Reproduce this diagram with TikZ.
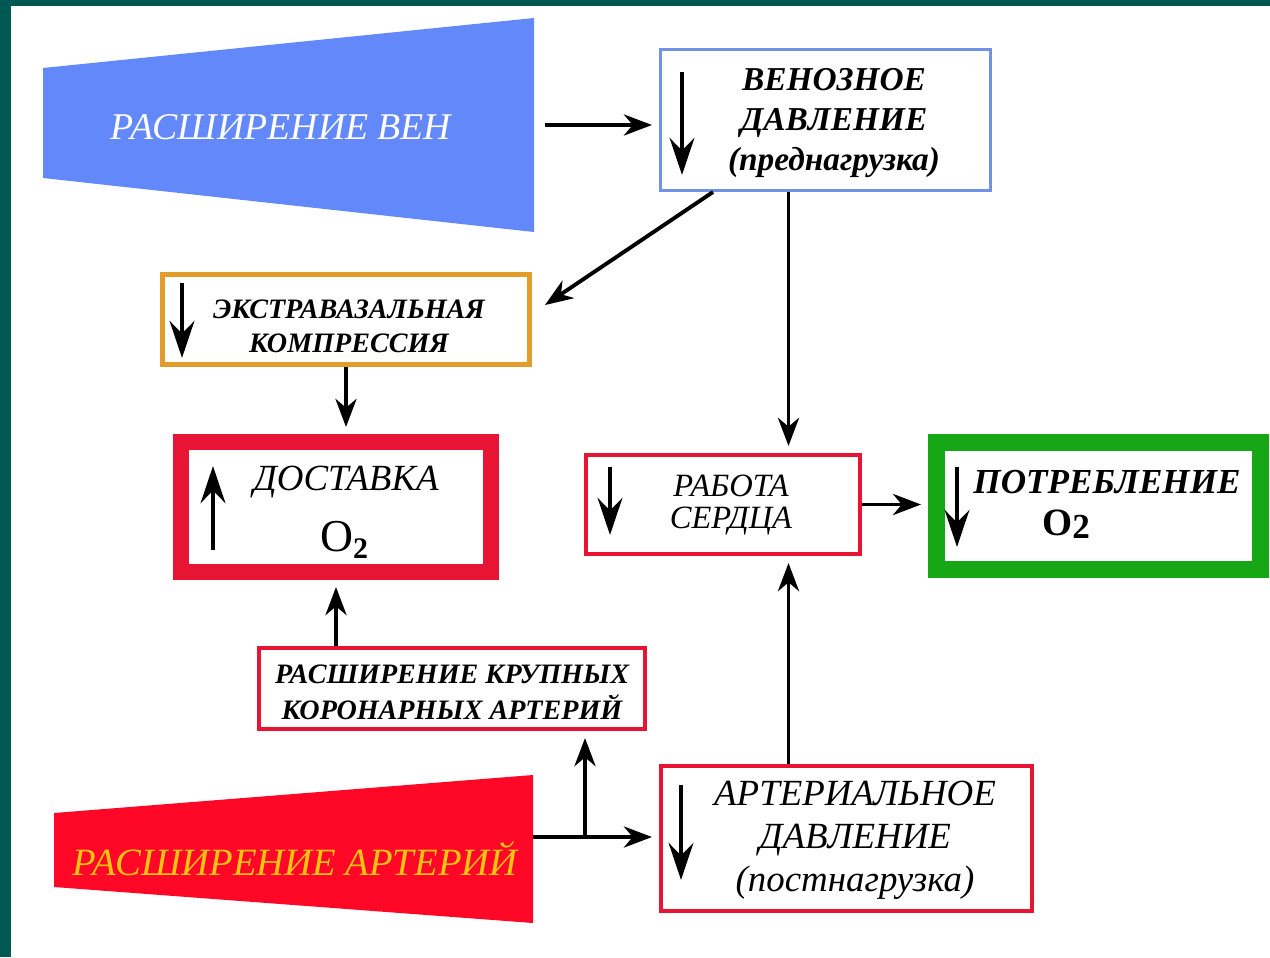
\documentclass[tikz,border=0pt]{standalone}
\usepackage{fontspec}
\setmainfont{Liberation Serif}
\usetikzlibrary{arrows.meta, calc}
\definecolor{slidebg}{RGB}{0,88,82}
\definecolor{veinblue}{RGB}{98,136,250}
\definecolor{venblue}{RGB}{112,146,226}
\definecolor{extraorange}{RGB}{226,156,42}
\definecolor{boxred}{RGB}{232,20,52}
\definecolor{consgreen}{RGB}{22,166,22}
\definecolor{artred}{RGB}{255,8,40}
\definecolor{artyellow}{RGB}{252,196,18}

\begin{document}
\begin{tikzpicture}[x = 0.02cm, y = -0.02cm,
  box/.style = {draw, line width = 2.3pt, inner sep = 0pt},
  conn/.style = {line width = 2.2pt, -{Stealth[length = 16pt, width = 12pt, inset = 5pt]}, shorten > = 4pt},
  ind/.style = {line width = 2.8pt, -{Stealth[length = 21pt, width = 14pt, inset = 7pt]}},
  lbl/.style = {align = center, inner sep = 0pt}]
\useasboundingbox (0, 0) rectangle (1270, 957);
\fill[slidebg] (0, 0) rectangle (1270, 957);
\fill[white] (11, 6) rectangle (1270, 957);

\fill[veinblue] (43, 68) -- (534, 18) -- (534, 232) -- (43, 178) -- cycle;
\fill[artred] (54, 813) -- (533, 775) -- (533, 923) -- (54, 887) -- cycle;
\node[lbl, text = white, font = \fontsize{21.5}{25}\selectfont\itshape] (veins) at (281, 127) {РАСШИРЕНИЕ ВЕН};
\node[lbl, text = artyellow, font = \fontsize{22}{26}\selectfont\itshape] (arteries) at (295, 859) {РАСШИРЕНИЕ АРТЕРИЙ};

\node[box, draw = venblue, line width = 1.7pt, minimum width = 6.6cm, minimum height = 2.82cm] (venous) at (825.5, 120) {};
\node[box, draw = extraorange, line width = 2.8pt, minimum width = 7.34cm, minimum height = 1.8cm] (extra) at (346, 319.5) {};
\node[box, draw = boxred, line width = 9.1pt, minimum width = 6.2cm, minimum height = 2.6cm] (deliv) at (336, 507) {};
\node[box, draw = boxred, minimum width = 5.48cm, minimum height = 1.98cm] (work) at (723, 504.5) {};
\node[box, draw = consgreen, line width = 9.6pt, minimum width = 6.48cm, minimum height = 2.54cm] (cons) at (1098.5, 506) {};
\node[box, draw = boxred, minimum width = 7.72cm, minimum height = 1.62cm] (coron) at (452, 688.5) {};
\node[box, draw = boxred, minimum width = 7.42cm, minimum height = 2.9cm] (artp) at (846.5, 838.5) {};

\node[lbl, font = \fontsize{19}{22.7}\selectfont\bfseries\itshape] (venous-t) at (834, 123) {ВЕНОЗНОЕ\\ДАВЛЕНИЕ\\(преднагрузка)};
\node[lbl, font = \fontsize{16}{19.3}\selectfont\bfseries\itshape] (extra-t) at (349, 326) {ЭКСТРАВАЗАЛЬНАЯ\\КОМПРЕССИЯ};
\node[lbl, font = \fontsize{21}{25}\selectfont\itshape] (deliv-t) at (346, 482) {ДОСТАВКА};
\node[lbl, font = \fontsize{26}{30}\selectfont] (deliv-o) at (344, 540) {O\raisebox{-0.35ex}{\fontsize{17}{17}\selectfont\bfseries 2}};
\node[lbl, font = \fontsize{18.5}{18.5}\selectfont\itshape] (work-t) at (731, 505) {РАБОТА\\СЕРДЦА};
\node[lbl, font = \fontsize{20}{24}\selectfont\bfseries\itshape] (cons-t) at (1107, 482) {ПОТРЕБЛЕНИЕ};
\node[lbl, font = \fontsize{22}{26}\selectfont\bfseries] (cons-o) at (1066, 524) {O\raisebox{-0.2ex}{\fontsize{20}{20}\selectfont 2}};
\node[lbl, font = \fontsize{16}{20.4}\selectfont\bfseries\itshape] (coron-t) at (452, 692) {РАСШИРЕНИЕ КРУПНЫХ\\КОРОНАРНЫХ АРТЕРИЙ};
\node[lbl, font = \fontsize{21}{24.5}\selectfont\itshape] (artp-t) at (855, 840) {АРТЕРИАЛЬНОЕ\\ДАВЛЕНИЕ\\(постнагрузка)};

\draw[ind] (682, 72) -- (682, 175);
\draw[ind] (182, 283) -- (182, 358);
\draw[ind] (213, 550) -- (213, 466);
\draw[ind] (610, 467) -- (610, 535);
\draw[ind] (957, 467) -- (957, 547);
\draw[ind] (681, 785) -- (681, 880);

\coordinate (veinout) at (545, 125);
\coordinate (vw) at ($(venous.south) + (-37, 0)$);
\coordinate (artout) at (533, 837);
\coordinate (split) at (585, 837);
\draw[conn] (veinout) -- (veinout -| venous.west);
\draw[conn, shorten > = 0pt] ($(venous.south west) + (54, 0)$) -- ($(extra.north east) + (13, 33)$);
\draw[conn] (vw) -- (vw |- work.north);
\draw[conn] (extra.south) -- (extra.south |- deliv.north);
\draw[conn] (work.east) -- (work.east -| cons.west);
\draw[conn] (deliv.south |- coron.north) -- (deliv.south);
\draw[conn] (vw |- artp.north) -- (vw |- work.south);
\draw[conn] (artout) -- (artout -| artp.west);
\draw[conn] (split) -- (split |- coron.south);
\end{tikzpicture}
\end{document}
